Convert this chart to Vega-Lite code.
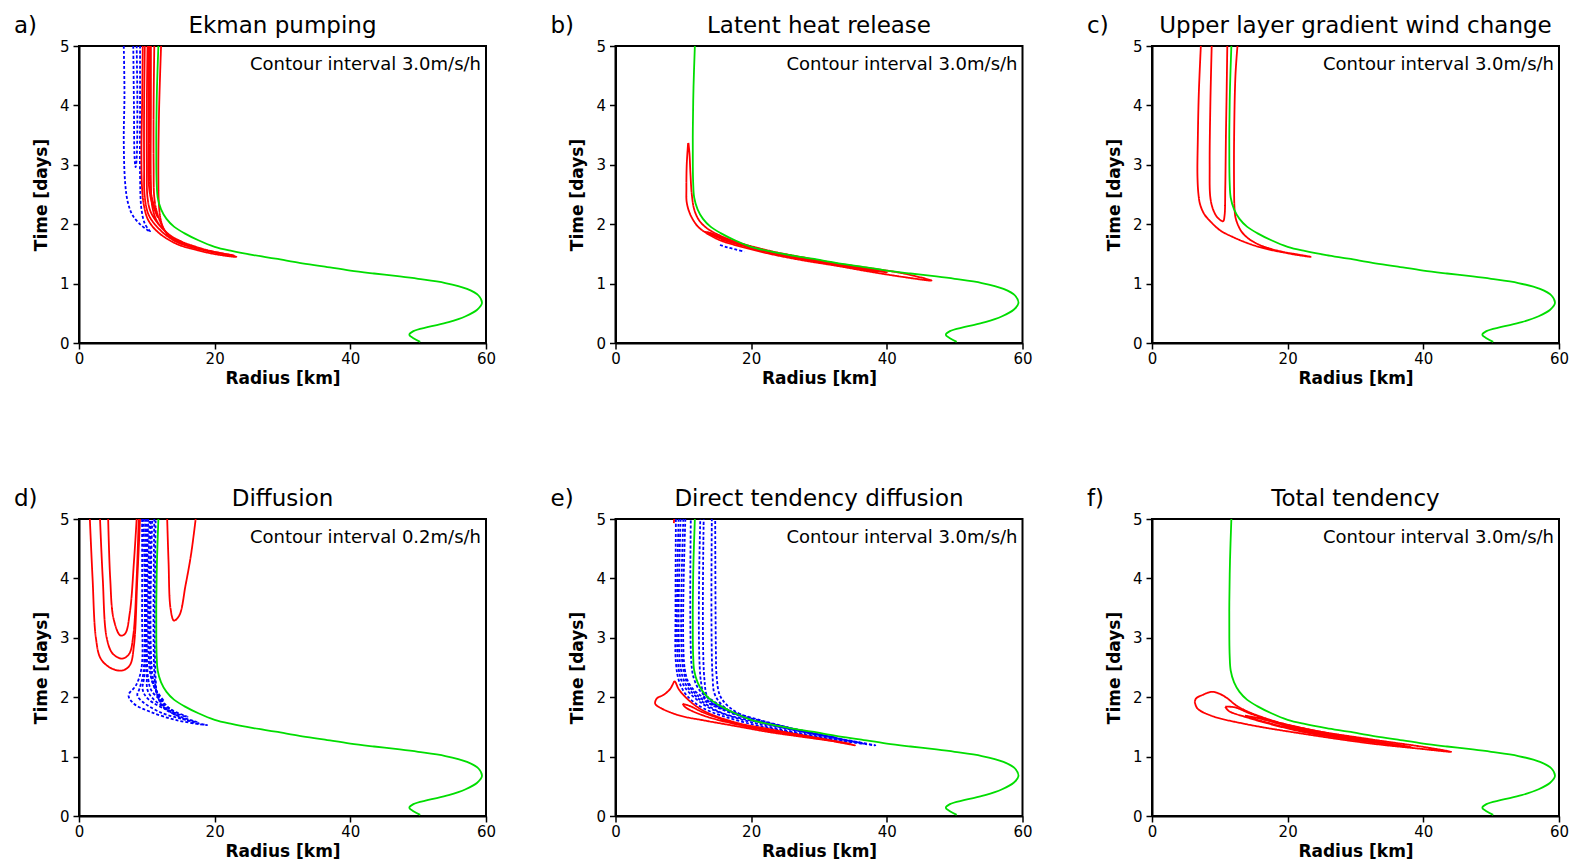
{
"$schema": "https://vega.github.io/schema/vega-lite/v6.json",
"background": "white",
"padding": {"left": 13, "top": 13, "right": 8, "bottom": 5},
"columns": 3,
"spacing": {"row": 176, "column": 129.5},
"bounds": "flush",
"config": {
 "font": "DejaVu Sans",
 "view": {"stroke": "black", "strokeWidth": 2},
 "axis": {"grid": false, "domainColor": "black", "domainWidth": 2, "tickColor": "black", "tickWidth": 1.5, "tickSize": 6, "labelFontSize": 15, "labelColor": "black", "labelFont": "DejaVu Sans", "titleFont": "DejaVu Sans", "titleFontSize": 17, "titleFontWeight": "bold", "titleColor": "black", "labelFlush": false},
 "axisX": {"labelPadding": 2, "titlePadding": 4},
 "axisY": {"labelPadding": 4, "titlePadding": 9},
 "text": {"font": "DejaVu Sans", "color": "black"}
},
"datasets": {
 "labels": [
  {"panel": "a", "letter": "a)", "title": "Ekman pumping", "interval": "Contour interval 3.0m/s/h"},
  {"panel": "b", "letter": "b)", "title": "Latent heat release", "interval": "Contour interval 3.0m/s/h"},
  {"panel": "c", "letter": "c)", "title": "Upper layer gradient wind change", "interval": "Contour interval 3.0m/s/h"},
  {"panel": "d", "letter": "d)", "title": "Diffusion", "interval": "Contour interval 0.2m/s/h"},
  {"panel": "e", "letter": "e)", "title": "Direct tendency diffusion", "interval": "Contour interval 3.0m/s/h"},
  {"panel": "f", "letter": "f)", "title": "Total tendency", "interval": "Contour interval 3.0m/s/h"}
 ],
 "rmw": [
  {"r": 50.3, "t": 0.02}, {"r": 49.3, "t": 0.08}, {"r": 48.7, "t": 0.14}, {"r": 49.3, "t": 0.2}, {"r": 51.5, "t": 0.27}, {"r": 54.5, "t": 0.35}, {"r": 57, "t": 0.45}, {"r": 58.7, "t": 0.56}, {"r": 59.4, "t": 0.67}, {"r": 58.9, "t": 0.8}, {"r": 57.2, "t": 0.91}, {"r": 54, "t": 1.01}, {"r": 50, "t": 1.08}, {"r": 47.3, "t": 1.12}, {"r": 43.5, "t": 1.17}, {"r": 40, "t": 1.22}, {"r": 36, "t": 1.29}, {"r": 32.5, "t": 1.35}, {"r": 29, "t": 1.42}, {"r": 25.7, "t": 1.48}, {"r": 22.5, "t": 1.55}, {"r": 20, "t": 1.62}, {"r": 17.6, "t": 1.73}, {"r": 15.5, "t": 1.85}, {"r": 14, "t": 1.96}, {"r": 12.9, "t": 2.09}, {"r": 12.1, "t": 2.25}, {"r": 11.6, "t": 2.45}, {"r": 11.45, "t": 2.7}, {"r": 11.4, "t": 3.0}, {"r": 11.4, "t": 3.6}, {"r": 11.5, "t": 4.3}, {"r": 11.7, "t": 5.0}
 ],
 "contours": [
  {"panel": "a", "id": "a1", "sign": "neg", "r": 6.6, "t": 5}, {"panel": "a", "id": "a1", "sign": "neg", "r": 6.7, "t": 4.2}, {"panel": "a", "id": "a1", "sign": "neg", "r": 6.6, "t": 3.4}, {"panel": "a", "id": "a1", "sign": "neg", "r": 6.8, "t": 2.7}, {"panel": "a", "id": "a1", "sign": "neg", "r": 7.2, "t": 2.37}, {"panel": "a", "id": "a1", "sign": "neg", "r": 7.9, "t": 2.15}, {"panel": "a", "id": "a1", "sign": "neg", "r": 9.1, "t": 1.99}, {"panel": "a", "id": "a1", "sign": "neg", "r": 10.1, "t": 1.9}, {"panel": "a", "id": "a1", "sign": "neg", "r": 10.5, "t": 1.87}, {"panel": "a", "id": "a1", "sign": "neg", "r": 9.7, "t": 2.01}, {"panel": "a", "id": "a1", "sign": "neg", "r": 9.2, "t": 2.26}, {"panel": "a", "id": "a1", "sign": "neg", "r": 9.0, "t": 2.82}, {"panel": "a", "id": "a1", "sign": "neg", "r": 9.0, "t": 3.94}, {"panel": "a", "id": "a1", "sign": "neg", "r": 9.0, "t": 5},
  {"panel": "a", "id": "a2", "sign": "neg", "r": 8.0, "t": 5}, {"panel": "a", "id": "a2", "sign": "neg", "r": 8.1, "t": 4}, {"panel": "a", "id": "a2", "sign": "neg", "r": 8.2, "t": 3.1}, {"panel": "a", "id": "a2", "sign": "neg", "r": 8.35, "t": 2.96}, {"panel": "a", "id": "a2", "sign": "neg", "r": 8.5, "t": 3.1}, {"panel": "a", "id": "a2", "sign": "neg", "r": 8.6, "t": 4}, {"panel": "a", "id": "a2", "sign": "neg", "r": 8.5, "t": 5},
  {"panel": "a", "id": "a3", "sign": "pos", "r": 9.4, "t": 5}, {"panel": "a", "id": "a3", "sign": "pos", "r": 9.3, "t": 4}, {"panel": "a", "id": "a3", "sign": "pos", "r": 9.2, "t": 3.2}, {"panel": "a", "id": "a3", "sign": "pos", "r": 9.3, "t": 2.6}, {"panel": "a", "id": "a3", "sign": "pos", "r": 9.6, "t": 2.3}, {"panel": "a", "id": "a3", "sign": "pos", "r": 10.2, "t": 2.07}, {"panel": "a", "id": "a3", "sign": "pos", "r": 11.6, "t": 1.87}, {"panel": "a", "id": "a3", "sign": "pos", "r": 13.5, "t": 1.72}, {"panel": "a", "id": "a3", "sign": "pos", "r": 15, "t": 1.64}, {"panel": "a", "id": "a3", "sign": "pos", "r": 17.5, "t": 1.56}, {"panel": "a", "id": "a3", "sign": "pos", "r": 19.4, "t": 1.51}, {"panel": "a", "id": "a3", "sign": "pos", "r": 21.5, "t": 1.47}, {"panel": "a", "id": "a3", "sign": "pos", "r": 23.2, "t": 1.45}, {"panel": "a", "id": "a3", "sign": "pos", "r": 21.5, "t": 1.5}, {"panel": "a", "id": "a3", "sign": "pos", "r": 19.4, "t": 1.55}, {"panel": "a", "id": "a3", "sign": "pos", "r": 17.5, "t": 1.61}, {"panel": "a", "id": "a3", "sign": "pos", "r": 15, "t": 1.71}, {"panel": "a", "id": "a3", "sign": "pos", "r": 13.5, "t": 1.79}, {"panel": "a", "id": "a3", "sign": "pos", "r": 12.6, "t": 1.9}, {"panel": "a", "id": "a3", "sign": "pos", "r": 12.1, "t": 2.05}, {"panel": "a", "id": "a3", "sign": "pos", "r": 11.8, "t": 2.3}, {"panel": "a", "id": "a3", "sign": "pos", "r": 11.7, "t": 2.8}, {"panel": "a", "id": "a3", "sign": "pos", "r": 11.8, "t": 3.9}, {"panel": "a", "id": "a3", "sign": "pos", "r": 12.1, "t": 5},
  {"panel": "a", "id": "a4", "sign": "pos", "r": 9.7, "t": 5}, {"panel": "a", "id": "a4", "sign": "pos", "r": 9.6, "t": 4}, {"panel": "a", "id": "a4", "sign": "pos", "r": 9.6, "t": 3}, {"panel": "a", "id": "a4", "sign": "pos", "r": 9.7, "t": 2.45}, {"panel": "a", "id": "a4", "sign": "pos", "r": 10.3, "t": 2.15}, {"panel": "a", "id": "a4", "sign": "pos", "r": 11.8, "t": 1.92}, {"panel": "a", "id": "a4", "sign": "pos", "r": 13.5, "t": 1.76}, {"panel": "a", "id": "a4", "sign": "pos", "r": 15, "t": 1.67}, {"panel": "a", "id": "a4", "sign": "pos", "r": 17.5, "t": 1.585}, {"panel": "a", "id": "a4", "sign": "pos", "r": 20.9, "t": 1.5}, {"panel": "a", "id": "a4", "sign": "pos", "r": 22.8, "t": 1.475}, {"panel": "a", "id": "a4", "sign": "pos", "r": 20.5, "t": 1.52}, {"panel": "a", "id": "a4", "sign": "pos", "r": 17.5, "t": 1.6}, {"panel": "a", "id": "a4", "sign": "pos", "r": 15.2, "t": 1.69}, {"panel": "a", "id": "a4", "sign": "pos", "r": 13.5, "t": 1.78}, {"panel": "a", "id": "a4", "sign": "pos", "r": 12.4, "t": 1.94}, {"panel": "a", "id": "a4", "sign": "pos", "r": 11.5, "t": 2.2}, {"panel": "a", "id": "a4", "sign": "pos", "r": 11.1, "t": 2.45}, {"panel": "a", "id": "a4", "sign": "pos", "r": 11, "t": 3}, {"panel": "a", "id": "a4", "sign": "pos", "r": 11, "t": 4}, {"panel": "a", "id": "a4", "sign": "pos", "r": 11.1, "t": 5},
  {"panel": "a", "id": "a5", "sign": "pos", "r": 10.1, "t": 5}, {"panel": "a", "id": "a5", "sign": "pos", "r": 10, "t": 4}, {"panel": "a", "id": "a5", "sign": "pos", "r": 10, "t": 3}, {"panel": "a", "id": "a5", "sign": "pos", "r": 10.1, "t": 2.45}, {"panel": "a", "id": "a5", "sign": "pos", "r": 10.6, "t": 2.2}, {"panel": "a", "id": "a5", "sign": "pos", "r": 12.1, "t": 1.95}, {"panel": "a", "id": "a5", "sign": "pos", "r": 13.6, "t": 1.8}, {"panel": "a", "id": "a5", "sign": "pos", "r": 15.2, "t": 1.7}, {"panel": "a", "id": "a5", "sign": "pos", "r": 14, "t": 1.76}, {"panel": "a", "id": "a5", "sign": "pos", "r": 12.8, "t": 1.87}, {"panel": "a", "id": "a5", "sign": "pos", "r": 11.5, "t": 2.05}, {"panel": "a", "id": "a5", "sign": "pos", "r": 10.8, "t": 2.3}, {"panel": "a", "id": "a5", "sign": "pos", "r": 10.6, "t": 2.7}, {"panel": "a", "id": "a5", "sign": "pos", "r": 10.6, "t": 4}, {"panel": "a", "id": "a5", "sign": "pos", "r": 10.6, "t": 5},
  {"panel": "a", "id": "a6", "sign": "pos", "r": 10.3, "t": 5}, {"panel": "a", "id": "a6", "sign": "pos", "r": 10.25, "t": 3.5}, {"panel": "a", "id": "a6", "sign": "pos", "r": 10.35, "t": 2.6}, {"panel": "a", "id": "a6", "sign": "pos", "r": 10.8, "t": 2.35}, {"panel": "a", "id": "a6", "sign": "pos", "r": 11.6, "t": 2.12}, {"panel": "a", "id": "a6", "sign": "pos", "r": 11.1, "t": 2.3}, {"panel": "a", "id": "a6", "sign": "pos", "r": 10.5, "t": 2.6}, {"panel": "a", "id": "a6", "sign": "pos", "r": 10.45, "t": 3.5}, {"panel": "a", "id": "a6", "sign": "pos", "r": 10.45, "t": 5},

  {"panel": "b", "id": "b1", "sign": "pos", "r": 10.7, "t": 3.36}, {"panel": "b", "id": "b1", "sign": "pos", "r": 10.5, "t": 3.0}, {"panel": "b", "id": "b1", "sign": "pos", "r": 10.45, "t": 2.6}, {"panel": "b", "id": "b1", "sign": "pos", "r": 10.5, "t": 2.37}, {"panel": "b", "id": "b1", "sign": "pos", "r": 11.0, "t": 2.17}, {"panel": "b", "id": "b1", "sign": "pos", "r": 12.0, "t": 1.98}, {"panel": "b", "id": "b1", "sign": "pos", "r": 13.0, "t": 1.88}, {"panel": "b", "id": "b1", "sign": "pos", "r": 15.4, "t": 1.73}, {"panel": "b", "id": "b1", "sign": "pos", "r": 17.9, "t": 1.64}, {"panel": "b", "id": "b1", "sign": "pos", "r": 22.8, "t": 1.5}, {"panel": "b", "id": "b1", "sign": "pos", "r": 27.7, "t": 1.39}, {"panel": "b", "id": "b1", "sign": "pos", "r": 32.6, "t": 1.3}, {"panel": "b", "id": "b1", "sign": "pos", "r": 37.5, "t": 1.2}, {"panel": "b", "id": "b1", "sign": "pos", "r": 42.5, "t": 1.11}, {"panel": "b", "id": "b1", "sign": "pos", "r": 46.6, "t": 1.05}, {"panel": "b", "id": "b1", "sign": "pos", "r": 42.5, "t": 1.17}, {"panel": "b", "id": "b1", "sign": "pos", "r": 37.5, "t": 1.26}, {"panel": "b", "id": "b1", "sign": "pos", "r": 32.6, "t": 1.34}, {"panel": "b", "id": "b1", "sign": "pos", "r": 27.7, "t": 1.44}, {"panel": "b", "id": "b1", "sign": "pos", "r": 22.8, "t": 1.55}, {"panel": "b", "id": "b1", "sign": "pos", "r": 17.9, "t": 1.7}, {"panel": "b", "id": "b1", "sign": "pos", "r": 15.4, "t": 1.81}, {"panel": "b", "id": "b1", "sign": "pos", "r": 13.5, "t": 1.93}, {"panel": "b", "id": "b1", "sign": "pos", "r": 12.3, "t": 2.07}, {"panel": "b", "id": "b1", "sign": "pos", "r": 11.6, "t": 2.25}, {"panel": "b", "id": "b1", "sign": "pos", "r": 11.25, "t": 2.5}, {"panel": "b", "id": "b1", "sign": "pos", "r": 11.05, "t": 2.85}, {"panel": "b", "id": "b1", "sign": "pos", "r": 10.9, "t": 3.2}, {"panel": "b", "id": "b1", "sign": "pos", "r": 10.75, "t": 3.37},
  {"panel": "b", "id": "b2", "sign": "pos", "r": 13.2, "t": 1.87}, {"panel": "b", "id": "b2", "sign": "pos", "r": 15.4, "t": 1.76}, {"panel": "b", "id": "b2", "sign": "pos", "r": 17.9, "t": 1.665}, {"panel": "b", "id": "b2", "sign": "pos", "r": 22.8, "t": 1.52}, {"panel": "b", "id": "b2", "sign": "pos", "r": 27.7, "t": 1.41}, {"panel": "b", "id": "b2", "sign": "pos", "r": 32.6, "t": 1.315}, {"panel": "b", "id": "b2", "sign": "pos", "r": 37.5, "t": 1.225}, {"panel": "b", "id": "b2", "sign": "pos", "r": 40, "t": 1.19}, {"panel": "b", "id": "b2", "sign": "pos", "r": 37.5, "t": 1.24}, {"panel": "b", "id": "b2", "sign": "pos", "r": 32.6, "t": 1.33}, {"panel": "b", "id": "b2", "sign": "pos", "r": 27.7, "t": 1.425}, {"panel": "b", "id": "b2", "sign": "pos", "r": 22.8, "t": 1.535}, {"panel": "b", "id": "b2", "sign": "pos", "r": 17.9, "t": 1.685}, {"panel": "b", "id": "b2", "sign": "pos", "r": 15.4, "t": 1.79}, {"panel": "b", "id": "b2", "sign": "pos", "r": 13.8, "t": 1.86}, {"panel": "b", "id": "b2", "sign": "pos", "r": 13.2, "t": 1.87},
  {"panel": "b", "id": "b3", "sign": "pos", "r": 15.6, "t": 1.74}, {"panel": "b", "id": "b3", "sign": "pos", "r": 17.9, "t": 1.675}, {"panel": "b", "id": "b3", "sign": "pos", "r": 22.8, "t": 1.53}, {"panel": "b", "id": "b3", "sign": "pos", "r": 27.7, "t": 1.415}, {"panel": "b", "id": "b3", "sign": "pos", "r": 32.6, "t": 1.32}, {"panel": "b", "id": "b3", "sign": "pos", "r": 38.5, "t": 1.2}, {"panel": "b", "id": "b3", "sign": "pos", "r": 32.6, "t": 1.325}, {"panel": "b", "id": "b3", "sign": "pos", "r": 27.7, "t": 1.42}, {"panel": "b", "id": "b3", "sign": "pos", "r": 22.8, "t": 1.54}, {"panel": "b", "id": "b3", "sign": "pos", "r": 17.9, "t": 1.68}, {"panel": "b", "id": "b3", "sign": "pos", "r": 15.6, "t": 1.74},
  {"panel": "b", "id": "b4", "sign": "neg", "r": 15.4, "t": 1.65}, {"panel": "b", "id": "b4", "sign": "neg", "r": 16.5, "t": 1.61}, {"panel": "b", "id": "b4", "sign": "neg", "r": 17.7, "t": 1.575}, {"panel": "b", "id": "b4", "sign": "neg", "r": 19.0, "t": 1.54},

  {"panel": "c", "id": "c1", "sign": "pos", "r": 7.2, "t": 5}, {"panel": "c", "id": "c1", "sign": "pos", "r": 6.9, "t": 4.2}, {"panel": "c", "id": "c1", "sign": "pos", "r": 6.75, "t": 3.4}, {"panel": "c", "id": "c1", "sign": "pos", "r": 6.7, "t": 2.82}, {"panel": "c", "id": "c1", "sign": "pos", "r": 6.85, "t": 2.5}, {"panel": "c", "id": "c1", "sign": "pos", "r": 7.1, "t": 2.33}, {"panel": "c", "id": "c1", "sign": "pos", "r": 7.7, "t": 2.17}, {"panel": "c", "id": "c1", "sign": "pos", "r": 8.5, "t": 2.06}, {"panel": "c", "id": "c1", "sign": "pos", "r": 10.0, "t": 1.9}, {"panel": "c", "id": "c1", "sign": "pos", "r": 12.0, "t": 1.78}, {"panel": "c", "id": "c1", "sign": "pos", "r": 14.6, "t": 1.66}, {"panel": "c", "id": "c1", "sign": "pos", "r": 17.0, "t": 1.58}, {"panel": "c", "id": "c1", "sign": "pos", "r": 19.6, "t": 1.52}, {"panel": "c", "id": "c1", "sign": "pos", "r": 21.5, "t": 1.48}, {"panel": "c", "id": "c1", "sign": "pos", "r": 23.4, "t": 1.45}, {"panel": "c", "id": "c1", "sign": "pos", "r": 21.5, "t": 1.49}, {"panel": "c", "id": "c1", "sign": "pos", "r": 19.5, "t": 1.53}, {"panel": "c", "id": "c1", "sign": "pos", "r": 17.1, "t": 1.6}, {"panel": "c", "id": "c1", "sign": "pos", "r": 15.5, "t": 1.67}, {"panel": "c", "id": "c1", "sign": "pos", "r": 14.2, "t": 1.76}, {"panel": "c", "id": "c1", "sign": "pos", "r": 13.3, "t": 1.86}, {"panel": "c", "id": "c1", "sign": "pos", "r": 12.7, "t": 1.98}, {"panel": "c", "id": "c1", "sign": "pos", "r": 12.3, "t": 2.12}, {"panel": "c", "id": "c1", "sign": "pos", "r": 12.15, "t": 2.3}, {"panel": "c", "id": "c1", "sign": "pos", "r": 12.1, "t": 2.6}, {"panel": "c", "id": "c1", "sign": "pos", "r": 12.1, "t": 3.4}, {"panel": "c", "id": "c1", "sign": "pos", "r": 12.3, "t": 4.5}, {"panel": "c", "id": "c1", "sign": "pos", "r": 12.6, "t": 5},
  {"panel": "c", "id": "c2", "sign": "pos", "r": 8.8, "t": 5}, {"panel": "c", "id": "c2", "sign": "pos", "r": 8.6, "t": 4}, {"panel": "c", "id": "c2", "sign": "pos", "r": 8.5, "t": 3}, {"panel": "c", "id": "c2", "sign": "pos", "r": 8.6, "t": 2.45}, {"panel": "c", "id": "c2", "sign": "pos", "r": 9.0, "t": 2.25}, {"panel": "c", "id": "c2", "sign": "pos", "r": 9.6, "t": 2.12}, {"panel": "c", "id": "c2", "sign": "pos", "r": 10.2, "t": 2.06}, {"panel": "c", "id": "c2", "sign": "pos", "r": 10.5, "t": 2.05}, {"panel": "c", "id": "c2", "sign": "pos", "r": 10.7, "t": 2.15}, {"panel": "c", "id": "c2", "sign": "pos", "r": 10.8, "t": 2.6}, {"panel": "c", "id": "c2", "sign": "pos", "r": 10.9, "t": 3.5}, {"panel": "c", "id": "c2", "sign": "pos", "r": 11.0, "t": 4.2}, {"panel": "c", "id": "c2", "sign": "pos", "r": 11.1, "t": 5},

  {"panel": "d", "id": "d1", "sign": "pos", "r": 1.6, "t": 5}, {"panel": "d", "id": "d1", "sign": "pos", "r": 2.0, "t": 4}, {"panel": "d", "id": "d1", "sign": "pos", "r": 2.5, "t": 2.99}, {"panel": "d", "id": "d1", "sign": "pos", "r": 3.2, "t": 2.65}, {"panel": "d", "id": "d1", "sign": "pos", "r": 4.7, "t": 2.49}, {"panel": "d", "id": "d1", "sign": "pos", "r": 6.4, "t": 2.45}, {"panel": "d", "id": "d1", "sign": "pos", "r": 7.5, "t": 2.54}, {"panel": "d", "id": "d1", "sign": "pos", "r": 8.1, "t": 2.87}, {"panel": "d", "id": "d1", "sign": "pos", "r": 8.6, "t": 4}, {"panel": "d", "id": "d1", "sign": "pos", "r": 9.0, "t": 5},
  {"panel": "d", "id": "d2", "sign": "pos", "r": 3.1, "t": 5}, {"panel": "d", "id": "d2", "sign": "pos", "r": 3.5, "t": 4}, {"panel": "d", "id": "d2", "sign": "pos", "r": 4.1, "t": 2.99}, {"panel": "d", "id": "d2", "sign": "pos", "r": 5.0, "t": 2.73}, {"panel": "d", "id": "d2", "sign": "pos", "r": 6.4, "t": 2.65}, {"panel": "d", "id": "d2", "sign": "pos", "r": 7.4, "t": 2.73}, {"panel": "d", "id": "d2", "sign": "pos", "r": 8.0, "t": 3.04}, {"panel": "d", "id": "d2", "sign": "pos", "r": 8.5, "t": 4}, {"panel": "d", "id": "d2", "sign": "pos", "r": 8.8, "t": 5},
  {"panel": "d", "id": "d3", "sign": "pos", "r": 4.3, "t": 5}, {"panel": "d", "id": "d3", "sign": "pos", "r": 4.6, "t": 4}, {"panel": "d", "id": "d3", "sign": "pos", "r": 5.1, "t": 3.32}, {"panel": "d", "id": "d3", "sign": "pos", "r": 6.1, "t": 3.04}, {"panel": "d", "id": "d3", "sign": "pos", "r": 6.8, "t": 3.07}, {"panel": "d", "id": "d3", "sign": "pos", "r": 7.5, "t": 3.43}, {"panel": "d", "id": "d3", "sign": "pos", "r": 8.1, "t": 4.28}, {"panel": "d", "id": "d3", "sign": "pos", "r": 8.5, "t": 5},
  {"panel": "d", "id": "d4", "sign": "pos", "r": 13.0, "t": 5}, {"panel": "d", "id": "d4", "sign": "pos", "r": 13.2, "t": 4.28}, {"panel": "d", "id": "d4", "sign": "pos", "r": 13.5, "t": 3.49}, {"panel": "d", "id": "d4", "sign": "pos", "r": 14.0, "t": 3.29}, {"panel": "d", "id": "d4", "sign": "pos", "r": 14.8, "t": 3.38}, {"panel": "d", "id": "d4", "sign": "pos", "r": 15.7, "t": 3.88}, {"panel": "d", "id": "d4", "sign": "pos", "r": 16.5, "t": 4.39}, {"panel": "d", "id": "d4", "sign": "pos", "r": 17.2, "t": 5},
  {"panel": "d", "id": "d5", "sign": "neg", "r": 9.3, "t": 5}, {"panel": "d", "id": "d5", "sign": "neg", "r": 9.3, "t": 3.43}, {"panel": "d", "id": "d5", "sign": "neg", "r": 9.2, "t": 2.48}, {"panel": "d", "id": "d5", "sign": "neg", "r": 8.4, "t": 2.2}, {"panel": "d", "id": "d5", "sign": "neg", "r": 7.3, "t": 2.03}, {"panel": "d", "id": "d5", "sign": "neg", "r": 8.1, "t": 1.89}, {"panel": "d", "id": "d5", "sign": "neg", "r": 10.6, "t": 1.75}, {"panel": "d", "id": "d5", "sign": "neg", "r": 14.5, "t": 1.61}, {"panel": "d", "id": "d5", "sign": "neg", "r": 18.9, "t": 1.53}, {"panel": "d", "id": "d5", "sign": "neg", "r": 16.5, "t": 1.59}, {"panel": "d", "id": "d5", "sign": "neg", "r": 13.5, "t": 1.75}, {"panel": "d", "id": "d5", "sign": "neg", "r": 11.7, "t": 1.98}, {"panel": "d", "id": "d5", "sign": "neg", "r": 11.3, "t": 2.31}, {"panel": "d", "id": "d5", "sign": "neg", "r": 11.3, "t": 5},
  {"panel": "d", "id": "d6", "sign": "neg", "r": 9.5, "t": 5}, {"panel": "d", "id": "d6", "sign": "neg", "r": 9.5, "t": 2.42}, {"panel": "d", "id": "d6", "sign": "neg", "r": 8.9, "t": 2.14}, {"panel": "d", "id": "d6", "sign": "neg", "r": 8.6, "t": 2.03}, {"panel": "d", "id": "d6", "sign": "neg", "r": 9.4, "t": 1.92}, {"panel": "d", "id": "d6", "sign": "neg", "r": 12.1, "t": 1.74}, {"panel": "d", "id": "d6", "sign": "neg", "r": 15.0, "t": 1.64}, {"panel": "d", "id": "d6", "sign": "neg", "r": 17.5, "t": 1.58}, {"panel": "d", "id": "d6", "sign": "neg", "r": 15.0, "t": 1.67}, {"panel": "d", "id": "d6", "sign": "neg", "r": 12.5, "t": 1.82}, {"panel": "d", "id": "d6", "sign": "neg", "r": 11.5, "t": 2.06}, {"panel": "d", "id": "d6", "sign": "neg", "r": 11.1, "t": 2.42}, {"panel": "d", "id": "d6", "sign": "neg", "r": 11.1, "t": 5},
  {"panel": "d", "id": "d7", "sign": "neg", "r": 9.75, "t": 5}, {"panel": "d", "id": "d7", "sign": "neg", "r": 9.7, "t": 2.42}, {"panel": "d", "id": "d7", "sign": "neg", "r": 9.4, "t": 2.12}, {"panel": "d", "id": "d7", "sign": "neg", "r": 10.3, "t": 1.96}, {"panel": "d", "id": "d7", "sign": "neg", "r": 13.5, "t": 1.76}, {"panel": "d", "id": "d7", "sign": "neg", "r": 16.0, "t": 1.67}, {"panel": "d", "id": "d7", "sign": "neg", "r": 13.5, "t": 1.8}, {"panel": "d", "id": "d7", "sign": "neg", "r": 11.7, "t": 2.04}, {"panel": "d", "id": "d7", "sign": "neg", "r": 10.8, "t": 2.4}, {"panel": "d", "id": "d7", "sign": "neg", "r": 10.8, "t": 5},
  {"panel": "d", "id": "d8", "sign": "neg", "r": 10.0, "t": 5}, {"panel": "d", "id": "d8", "sign": "neg", "r": 10.0, "t": 2.42}, {"panel": "d", "id": "d8", "sign": "neg", "r": 10.2, "t": 2.09}, {"panel": "d", "id": "d8", "sign": "neg", "r": 12.1, "t": 1.86}, {"panel": "d", "id": "d8", "sign": "neg", "r": 14.5, "t": 1.72}, {"panel": "d", "id": "d8", "sign": "neg", "r": 12.5, "t": 1.88}, {"panel": "d", "id": "d8", "sign": "neg", "r": 11.2, "t": 2.14}, {"panel": "d", "id": "d8", "sign": "neg", "r": 10.6, "t": 2.42}, {"panel": "d", "id": "d8", "sign": "neg", "r": 10.6, "t": 5},
  {"panel": "d", "id": "d9", "sign": "neg", "r": 10.2, "t": 5}, {"panel": "d", "id": "d9", "sign": "neg", "r": 10.2, "t": 2.31}, {"panel": "d", "id": "d9", "sign": "neg", "r": 10.8, "t": 2.09}, {"panel": "d", "id": "d9", "sign": "neg", "r": 12.5, "t": 1.93}, {"panel": "d", "id": "d9", "sign": "neg", "r": 11.1, "t": 2.17}, {"panel": "d", "id": "d9", "sign": "neg", "r": 10.4, "t": 2.48}, {"panel": "d", "id": "d9", "sign": "neg", "r": 10.4, "t": 5},

  {"panel": "e", "id": "e1", "sign": "neg", "r": 8.9, "t": 5}, {"panel": "e", "id": "e1", "sign": "neg", "r": 8.85, "t": 3.43}, {"panel": "e", "id": "e1", "sign": "neg", "r": 8.9, "t": 2.59}, {"panel": "e", "id": "e1", "sign": "neg", "r": 9.4, "t": 2.26}, {"panel": "e", "id": "e1", "sign": "neg", "r": 10.5, "t": 2.03}, {"panel": "e", "id": "e1", "sign": "neg", "r": 13.0, "t": 1.81}, {"panel": "e", "id": "e1", "sign": "neg", "r": 18.9, "t": 1.58}, {"panel": "e", "id": "e1", "sign": "neg", "r": 27.7, "t": 1.37}, {"panel": "e", "id": "e1", "sign": "neg", "r": 38.3, "t": 1.19}, {"panel": "e", "id": "e1", "sign": "neg", "r": 32.6, "t": 1.31}, {"panel": "e", "id": "e1", "sign": "neg", "r": 27.7, "t": 1.42}, {"panel": "e", "id": "e1", "sign": "neg", "r": 20.3, "t": 1.62}, {"panel": "e", "id": "e1", "sign": "neg", "r": 16.9, "t": 1.82}, {"panel": "e", "id": "e1", "sign": "neg", "r": 15.4, "t": 2.03}, {"panel": "e", "id": "e1", "sign": "neg", "r": 14.9, "t": 2.37}, {"panel": "e", "id": "e1", "sign": "neg", "r": 14.8, "t": 2.76}, {"panel": "e", "id": "e1", "sign": "neg", "r": 14.7, "t": 5},
  {"panel": "e", "id": "e2", "sign": "neg", "r": 9.3, "t": 5}, {"panel": "e", "id": "e2", "sign": "neg", "r": 9.2, "t": 2.59}, {"panel": "e", "id": "e2", "sign": "neg", "r": 9.8, "t": 2.26}, {"panel": "e", "id": "e2", "sign": "neg", "r": 11.0, "t": 2.06}, {"panel": "e", "id": "e2", "sign": "neg", "r": 14.0, "t": 1.81}, {"panel": "e", "id": "e2", "sign": "neg", "r": 20.3, "t": 1.57}, {"panel": "e", "id": "e2", "sign": "neg", "r": 27.7, "t": 1.385}, {"panel": "e", "id": "e2", "sign": "neg", "r": 36.6, "t": 1.22}, {"panel": "e", "id": "e2", "sign": "neg", "r": 27.7, "t": 1.415}, {"panel": "e", "id": "e2", "sign": "neg", "r": 20.3, "t": 1.61}, {"panel": "e", "id": "e2", "sign": "neg", "r": 16.4, "t": 1.8}, {"panel": "e", "id": "e2", "sign": "neg", "r": 14.7, "t": 2.03}, {"panel": "e", "id": "e2", "sign": "neg", "r": 14.3, "t": 2.37}, {"panel": "e", "id": "e2", "sign": "neg", "r": 14.2, "t": 5},
  {"panel": "e", "id": "e3", "sign": "neg", "r": 9.6, "t": 5}, {"panel": "e", "id": "e3", "sign": "neg", "r": 9.5, "t": 2.59}, {"panel": "e", "id": "e3", "sign": "neg", "r": 10.3, "t": 2.23}, {"panel": "e", "id": "e3", "sign": "neg", "r": 12.0, "t": 2.0}, {"panel": "e", "id": "e3", "sign": "neg", "r": 15.4, "t": 1.75}, {"panel": "e", "id": "e3", "sign": "neg", "r": 22.8, "t": 1.54}, {"panel": "e", "id": "e3", "sign": "neg", "r": 32.6, "t": 1.32}, {"panel": "e", "id": "e3", "sign": "neg", "r": 22.8, "t": 1.56}, {"panel": "e", "id": "e3", "sign": "neg", "r": 16.4, "t": 1.78}, {"panel": "e", "id": "e3", "sign": "neg", "r": 13.7, "t": 1.98}, {"panel": "e", "id": "e3", "sign": "neg", "r": 13.1, "t": 2.31}, {"panel": "e", "id": "e3", "sign": "neg", "r": 13.0, "t": 5},
  {"panel": "e", "id": "e4", "sign": "neg", "r": 10.0, "t": 5}, {"panel": "e", "id": "e4", "sign": "neg", "r": 9.9, "t": 2.54}, {"panel": "e", "id": "e4", "sign": "neg", "r": 10.8, "t": 2.2}, {"panel": "e", "id": "e4", "sign": "neg", "r": 13.0, "t": 1.95}, {"panel": "e", "id": "e4", "sign": "neg", "r": 17.9, "t": 1.7}, {"panel": "e", "id": "e4", "sign": "neg", "r": 25.7, "t": 1.48}, {"panel": "e", "id": "e4", "sign": "neg", "r": 17.9, "t": 1.73}, {"panel": "e", "id": "e4", "sign": "neg", "r": 13.5, "t": 1.94}, {"panel": "e", "id": "e4", "sign": "neg", "r": 12.6, "t": 2.26}, {"panel": "e", "id": "e4", "sign": "neg", "r": 12.5, "t": 5},
  {"panel": "e", "id": "e5", "sign": "neg", "r": 10.3, "t": 5}, {"panel": "e", "id": "e5", "sign": "neg", "r": 10.2, "t": 2.48}, {"panel": "e", "id": "e5", "sign": "neg", "r": 11.0, "t": 2.2}, {"panel": "e", "id": "e5", "sign": "neg", "r": 12.5, "t": 2.03}, {"panel": "e", "id": "e5", "sign": "neg", "r": 15.0, "t": 1.85}, {"panel": "e", "id": "e5", "sign": "neg", "r": 16.5, "t": 1.79}, {"panel": "e", "id": "e5", "sign": "neg", "r": 14.5, "t": 1.93}, {"panel": "e", "id": "e5", "sign": "neg", "r": 12.5, "t": 2.1}, {"panel": "e", "id": "e5", "sign": "neg", "r": 11.6, "t": 2.3}, {"panel": "e", "id": "e5", "sign": "neg", "r": 11.2, "t": 2.55}, {"panel": "e", "id": "e5", "sign": "neg", "r": 11.1, "t": 5},
  {"panel": "e", "id": "e6", "sign": "pos", "r": 8.65, "t": 2.27}, {"panel": "e", "id": "e6", "sign": "pos", "r": 8.06, "t": 2.14}, {"panel": "e", "id": "e6", "sign": "pos", "r": 7.1, "t": 2.04}, {"panel": "e", "id": "e6", "sign": "pos", "r": 6.1, "t": 1.98}, {"panel": "e", "id": "e6", "sign": "pos", "r": 5.85, "t": 1.89}, {"panel": "e", "id": "e6", "sign": "pos", "r": 6.8, "t": 1.81}, {"panel": "e", "id": "e6", "sign": "pos", "r": 9.5, "t": 1.69}, {"panel": "e", "id": "e6", "sign": "pos", "r": 13.0, "t": 1.61}, {"panel": "e", "id": "e6", "sign": "pos", "r": 17.9, "t": 1.51}, {"panel": "e", "id": "e6", "sign": "pos", "r": 22.8, "t": 1.41}, {"panel": "e", "id": "e6", "sign": "pos", "r": 27.7, "t": 1.33}, {"panel": "e", "id": "e6", "sign": "pos", "r": 32.6, "t": 1.25}, {"panel": "e", "id": "e6", "sign": "pos", "r": 35.3, "t": 1.19}, {"panel": "e", "id": "e6", "sign": "pos", "r": 30.2, "t": 1.3}, {"panel": "e", "id": "e6", "sign": "pos", "r": 22.8, "t": 1.46}, {"panel": "e", "id": "e6", "sign": "pos", "r": 17.9, "t": 1.57}, {"panel": "e", "id": "e6", "sign": "pos", "r": 13.0, "t": 1.77}, {"panel": "e", "id": "e6", "sign": "pos", "r": 10.5, "t": 1.98}, {"panel": "e", "id": "e6", "sign": "pos", "r": 9.3, "t": 2.14}, {"panel": "e", "id": "e6", "sign": "pos", "r": 8.8, "t": 2.26}, {"panel": "e", "id": "e6", "sign": "pos", "r": 8.65, "t": 2.27},
  {"panel": "e", "id": "e7", "sign": "pos", "r": 9.9, "t": 1.89}, {"panel": "e", "id": "e7", "sign": "pos", "r": 10.3, "t": 1.83}, {"panel": "e", "id": "e7", "sign": "pos", "r": 13.0, "t": 1.69}, {"panel": "e", "id": "e7", "sign": "pos", "r": 17.9, "t": 1.54}, {"panel": "e", "id": "e7", "sign": "pos", "r": 22.8, "t": 1.43}, {"panel": "e", "id": "e7", "sign": "pos", "r": 27.7, "t": 1.345}, {"panel": "e", "id": "e7", "sign": "pos", "r": 34.6, "t": 1.215}, {"panel": "e", "id": "e7", "sign": "pos", "r": 27.7, "t": 1.355}, {"panel": "e", "id": "e7", "sign": "pos", "r": 22.8, "t": 1.445}, {"panel": "e", "id": "e7", "sign": "pos", "r": 17.9, "t": 1.555}, {"panel": "e", "id": "e7", "sign": "pos", "r": 13.0, "t": 1.74}, {"panel": "e", "id": "e7", "sign": "pos", "r": 11.0, "t": 1.85}, {"panel": "e", "id": "e7", "sign": "pos", "r": 9.9, "t": 1.89},
  {"panel": "e", "id": "e8", "sign": "pos", "r": 8.65, "t": 5}, {"panel": "e", "id": "e8", "sign": "pos", "r": 8.6, "t": 4.93},

  {"panel": "f", "id": "f1", "sign": "pos", "r": 6.3, "t": 1.92}, {"panel": "f", "id": "f1", "sign": "pos", "r": 6.7, "t": 1.81}, {"panel": "f", "id": "f1", "sign": "pos", "r": 8.7, "t": 1.69}, {"panel": "f", "id": "f1", "sign": "pos", "r": 13.7, "t": 1.55}, {"panel": "f", "id": "f1", "sign": "pos", "r": 22.5, "t": 1.38}, {"panel": "f", "id": "f1", "sign": "pos", "r": 32.3, "t": 1.22}, {"panel": "f", "id": "f1", "sign": "pos", "r": 39.7, "t": 1.13}, {"panel": "f", "id": "f1", "sign": "pos", "r": 44.1, "t": 1.08}, {"panel": "f", "id": "f1", "sign": "pos", "r": 40.2, "t": 1.16}, {"panel": "f", "id": "f1", "sign": "pos", "r": 32.3, "t": 1.29}, {"panel": "f", "id": "f1", "sign": "pos", "r": 22.5, "t": 1.47}, {"panel": "f", "id": "f1", "sign": "pos", "r": 16.6, "t": 1.65}, {"panel": "f", "id": "f1", "sign": "pos", "r": 12.7, "t": 1.84}, {"panel": "f", "id": "f1", "sign": "pos", "r": 11.0, "t": 1.99}, {"panel": "f", "id": "f1", "sign": "pos", "r": 9.7, "t": 2.07}, {"panel": "f", "id": "f1", "sign": "pos", "r": 8.7, "t": 2.09}, {"panel": "f", "id": "f1", "sign": "pos", "r": 7.5, "t": 2.04}, {"panel": "f", "id": "f1", "sign": "pos", "r": 6.5, "t": 1.98}, {"panel": "f", "id": "f1", "sign": "pos", "r": 6.3, "t": 1.92},
  {"panel": "f", "id": "f2", "sign": "pos", "r": 10.8, "t": 1.84}, {"panel": "f", "id": "f2", "sign": "pos", "r": 11.3, "t": 1.77}, {"panel": "f", "id": "f2", "sign": "pos", "r": 13.7, "t": 1.67}, {"panel": "f", "id": "f2", "sign": "pos", "r": 22.5, "t": 1.41}, {"panel": "f", "id": "f2", "sign": "pos", "r": 32.3, "t": 1.245}, {"panel": "f", "id": "f2", "sign": "pos", "r": 38.2, "t": 1.16}, {"panel": "f", "id": "f2", "sign": "pos", "r": 32.3, "t": 1.27}, {"panel": "f", "id": "f2", "sign": "pos", "r": 22.5, "t": 1.45}, {"panel": "f", "id": "f2", "sign": "pos", "r": 14.6, "t": 1.72}, {"panel": "f", "id": "f2", "sign": "pos", "r": 12.2, "t": 1.83}, {"panel": "f", "id": "f2", "sign": "pos", "r": 10.8, "t": 1.84},
  {"panel": "f", "id": "f3", "sign": "pos", "r": 13.7, "t": 1.69}, {"panel": "f", "id": "f3", "sign": "pos", "r": 15.5, "t": 1.62}, {"panel": "f", "id": "f3", "sign": "pos", "r": 22.5, "t": 1.42}, {"panel": "f", "id": "f3", "sign": "pos", "r": 30, "t": 1.28}, {"panel": "f", "id": "f3", "sign": "pos", "r": 37, "t": 1.185}, {"panel": "f", "id": "f3", "sign": "pos", "r": 30, "t": 1.295}, {"panel": "f", "id": "f3", "sign": "pos", "r": 22.5, "t": 1.44}, {"panel": "f", "id": "f3", "sign": "pos", "r": 16, "t": 1.64}, {"panel": "f", "id": "f3", "sign": "pos", "r": 13.7, "t": 1.69},
  {"panel": "f", "id": "f4", "sign": "pos", "r": 15.5, "t": 1.66}, {"panel": "f", "id": "f4", "sign": "pos", "r": 20, "t": 1.52}, {"panel": "f", "id": "f4", "sign": "pos", "r": 27, "t": 1.36}, {"panel": "f", "id": "f4", "sign": "pos", "r": 33, "t": 1.255}, {"panel": "f", "id": "f4", "sign": "pos", "r": 27, "t": 1.37}, {"panel": "f", "id": "f4", "sign": "pos", "r": 20, "t": 1.535}, {"panel": "f", "id": "f4", "sign": "pos", "r": 15.5, "t": 1.66}
 ]
},
"concat": [
 {"width": 407, "height": 297, "layer": [
  {"data": {"name": "contours"}, "transform": [{"filter": "datum.panel == 'a'"}], "mark": {"type": "line", "strokeWidth": 1.8, "clip": true, "interpolate": "catmull-rom"}, "encoding": {"x": {"field": "r", "type": "quantitative", "scale": {"domain": [0, 60], "nice": false, "zero": false}, "axis": {"values": [0, 20, 40, 60]}, "title": "Radius [km]"}, "y": {"field": "t", "type": "quantitative", "scale": {"domain": [0, 5], "nice": false, "zero": false}, "axis": {"values": [0, 1, 2, 3, 4, 5]}, "title": "Time [days]"}, "detail": {"field": "id"}, "order": {"value": null}, "color": {"field": "sign", "type": "nominal", "scale": {"domain": ["pos", "neg"], "range": ["#ff0000", "#0000ff"]}, "legend": null}, "strokeDash": {"field": "sign", "type": "nominal", "scale": {"domain": ["pos", "neg"], "range": [[1, 0], [3, 2]]}, "legend": null}}},
  {"data": {"name": "rmw"}, "mark": {"type": "line", "color": "#00dd00", "strokeWidth": 1.8, "clip": true, "interpolate": "catmull-rom"}, "encoding": {"x": {"field": "r", "type": "quantitative", "scale": {"domain": [0, 60], "nice": false, "zero": false}, "axis": {"values": [0, 20, 40, 60]}, "title": "Radius [km]"}, "y": {"field": "t", "type": "quantitative", "scale": {"domain": [0, 5], "nice": false, "zero": false}, "axis": {"values": [0, 1, 2, 3, 4, 5]}, "title": "Time [days]"}, "order": {"value": null}}},
  {"data": {"name": "labels"}, "transform": [{"filter": "datum.panel == 'a'"}], "mark": {"type": "text", "align": "right", "baseline": "alphabetic", "fontSize": 18}, "encoding": {"x": {"datum": 59.26, "type": "quantitative", "scale": {"domain": [0, 60], "nice": false, "zero": false}, "axis": {"values": [0, 20, 40, 60]}, "title": "Radius [km]"}, "y": {"datum": 4.596, "type": "quantitative", "scale": {"domain": [0, 5], "nice": false, "zero": false}, "axis": {"values": [0, 1, 2, 3, 4, 5]}, "title": "Time [days]"}, "text": {"field": "interval"}}},
  {"data": {"name": "labels"}, "transform": [{"filter": "datum.panel == 'a'"}], "mark": {"type": "text", "align": "left", "baseline": "alphabetic", "fontSize": 23}, "encoding": {"x": {"datum": -9.58, "type": "quantitative", "scale": {"domain": [0, 60], "nice": false, "zero": false}, "axis": {"values": [0, 20, 40, 60]}, "title": "Radius [km]"}, "y": {"datum": 5.219, "type": "quantitative", "scale": {"domain": [0, 5], "nice": false, "zero": false}, "axis": {"values": [0, 1, 2, 3, 4, 5]}, "title": "Time [days]"}, "text": {"field": "letter"}}},
  {"data": {"name": "labels"}, "transform": [{"filter": "datum.panel == 'a'"}], "mark": {"type": "text", "align": "center", "baseline": "alphabetic", "fontSize": 23}, "encoding": {"x": {"datum": 30, "type": "quantitative", "scale": {"domain": [0, 60], "nice": false, "zero": false}, "axis": {"values": [0, 20, 40, 60]}, "title": "Radius [km]"}, "y": {"datum": 5.219, "type": "quantitative", "scale": {"domain": [0, 5], "nice": false, "zero": false}, "axis": {"values": [0, 1, 2, 3, 4, 5]}, "title": "Time [days]"}, "text": {"field": "title"}}}
 ]},
 {"width": 407, "height": 297, "layer": [
  {"data": {"name": "contours"}, "transform": [{"filter": "datum.panel == 'b'"}], "mark": {"type": "line", "strokeWidth": 1.8, "clip": true, "interpolate": "catmull-rom"}, "encoding": {"x": {"field": "r", "type": "quantitative", "scale": {"domain": [0, 60], "nice": false, "zero": false}, "axis": {"values": [0, 20, 40, 60]}, "title": "Radius [km]"}, "y": {"field": "t", "type": "quantitative", "scale": {"domain": [0, 5], "nice": false, "zero": false}, "axis": {"values": [0, 1, 2, 3, 4, 5]}, "title": "Time [days]"}, "detail": {"field": "id"}, "order": {"value": null}, "color": {"field": "sign", "type": "nominal", "scale": {"domain": ["pos", "neg"], "range": ["#ff0000", "#0000ff"]}, "legend": null}, "strokeDash": {"field": "sign", "type": "nominal", "scale": {"domain": ["pos", "neg"], "range": [[1, 0], [3, 2]]}, "legend": null}}},
  {"data": {"name": "rmw"}, "mark": {"type": "line", "color": "#00dd00", "strokeWidth": 1.8, "clip": true, "interpolate": "catmull-rom"}, "encoding": {"x": {"field": "r", "type": "quantitative", "scale": {"domain": [0, 60], "nice": false, "zero": false}, "axis": {"values": [0, 20, 40, 60]}, "title": "Radius [km]"}, "y": {"field": "t", "type": "quantitative", "scale": {"domain": [0, 5], "nice": false, "zero": false}, "axis": {"values": [0, 1, 2, 3, 4, 5]}, "title": "Time [days]"}, "order": {"value": null}}},
  {"data": {"name": "labels"}, "transform": [{"filter": "datum.panel == 'b'"}], "mark": {"type": "text", "align": "right", "baseline": "alphabetic", "fontSize": 18}, "encoding": {"x": {"datum": 59.26, "type": "quantitative", "scale": {"domain": [0, 60], "nice": false, "zero": false}, "axis": {"values": [0, 20, 40, 60]}, "title": "Radius [km]"}, "y": {"datum": 4.596, "type": "quantitative", "scale": {"domain": [0, 5], "nice": false, "zero": false}, "axis": {"values": [0, 1, 2, 3, 4, 5]}, "title": "Time [days]"}, "text": {"field": "interval"}}},
  {"data": {"name": "labels"}, "transform": [{"filter": "datum.panel == 'b'"}], "mark": {"type": "text", "align": "left", "baseline": "alphabetic", "fontSize": 23}, "encoding": {"x": {"datum": -9.58, "type": "quantitative", "scale": {"domain": [0, 60], "nice": false, "zero": false}, "axis": {"values": [0, 20, 40, 60]}, "title": "Radius [km]"}, "y": {"datum": 5.219, "type": "quantitative", "scale": {"domain": [0, 5], "nice": false, "zero": false}, "axis": {"values": [0, 1, 2, 3, 4, 5]}, "title": "Time [days]"}, "text": {"field": "letter"}}},
  {"data": {"name": "labels"}, "transform": [{"filter": "datum.panel == 'b'"}], "mark": {"type": "text", "align": "center", "baseline": "alphabetic", "fontSize": 23}, "encoding": {"x": {"datum": 30, "type": "quantitative", "scale": {"domain": [0, 60], "nice": false, "zero": false}, "axis": {"values": [0, 20, 40, 60]}, "title": "Radius [km]"}, "y": {"datum": 5.219, "type": "quantitative", "scale": {"domain": [0, 5], "nice": false, "zero": false}, "axis": {"values": [0, 1, 2, 3, 4, 5]}, "title": "Time [days]"}, "text": {"field": "title"}}}
 ]},
 {"width": 407, "height": 297, "layer": [
  {"data": {"name": "contours"}, "transform": [{"filter": "datum.panel == 'c'"}], "mark": {"type": "line", "strokeWidth": 1.8, "clip": true, "interpolate": "catmull-rom"}, "encoding": {"x": {"field": "r", "type": "quantitative", "scale": {"domain": [0, 60], "nice": false, "zero": false}, "axis": {"values": [0, 20, 40, 60]}, "title": "Radius [km]"}, "y": {"field": "t", "type": "quantitative", "scale": {"domain": [0, 5], "nice": false, "zero": false}, "axis": {"values": [0, 1, 2, 3, 4, 5]}, "title": "Time [days]"}, "detail": {"field": "id"}, "order": {"value": null}, "color": {"field": "sign", "type": "nominal", "scale": {"domain": ["pos", "neg"], "range": ["#ff0000", "#0000ff"]}, "legend": null}, "strokeDash": {"field": "sign", "type": "nominal", "scale": {"domain": ["pos", "neg"], "range": [[1, 0], [3, 2]]}, "legend": null}}},
  {"data": {"name": "rmw"}, "mark": {"type": "line", "color": "#00dd00", "strokeWidth": 1.8, "clip": true, "interpolate": "catmull-rom"}, "encoding": {"x": {"field": "r", "type": "quantitative", "scale": {"domain": [0, 60], "nice": false, "zero": false}, "axis": {"values": [0, 20, 40, 60]}, "title": "Radius [km]"}, "y": {"field": "t", "type": "quantitative", "scale": {"domain": [0, 5], "nice": false, "zero": false}, "axis": {"values": [0, 1, 2, 3, 4, 5]}, "title": "Time [days]"}, "order": {"value": null}}},
  {"data": {"name": "labels"}, "transform": [{"filter": "datum.panel == 'c'"}], "mark": {"type": "text", "align": "right", "baseline": "alphabetic", "fontSize": 18}, "encoding": {"x": {"datum": 59.26, "type": "quantitative", "scale": {"domain": [0, 60], "nice": false, "zero": false}, "axis": {"values": [0, 20, 40, 60]}, "title": "Radius [km]"}, "y": {"datum": 4.596, "type": "quantitative", "scale": {"domain": [0, 5], "nice": false, "zero": false}, "axis": {"values": [0, 1, 2, 3, 4, 5]}, "title": "Time [days]"}, "text": {"field": "interval"}}},
  {"data": {"name": "labels"}, "transform": [{"filter": "datum.panel == 'c'"}], "mark": {"type": "text", "align": "left", "baseline": "alphabetic", "fontSize": 23}, "encoding": {"x": {"datum": -9.58, "type": "quantitative", "scale": {"domain": [0, 60], "nice": false, "zero": false}, "axis": {"values": [0, 20, 40, 60]}, "title": "Radius [km]"}, "y": {"datum": 5.219, "type": "quantitative", "scale": {"domain": [0, 5], "nice": false, "zero": false}, "axis": {"values": [0, 1, 2, 3, 4, 5]}, "title": "Time [days]"}, "text": {"field": "letter"}}},
  {"data": {"name": "labels"}, "transform": [{"filter": "datum.panel == 'c'"}], "mark": {"type": "text", "align": "center", "baseline": "alphabetic", "fontSize": 23}, "encoding": {"x": {"datum": 30, "type": "quantitative", "scale": {"domain": [0, 60], "nice": false, "zero": false}, "axis": {"values": [0, 20, 40, 60]}, "title": "Radius [km]"}, "y": {"datum": 5.219, "type": "quantitative", "scale": {"domain": [0, 5], "nice": false, "zero": false}, "axis": {"values": [0, 1, 2, 3, 4, 5]}, "title": "Time [days]"}, "text": {"field": "title"}}}
 ]},
 {"width": 407, "height": 297, "layer": [
  {"data": {"name": "contours"}, "transform": [{"filter": "datum.panel == 'd'"}], "mark": {"type": "line", "strokeWidth": 1.8, "clip": true, "interpolate": "catmull-rom"}, "encoding": {"x": {"field": "r", "type": "quantitative", "scale": {"domain": [0, 60], "nice": false, "zero": false}, "axis": {"values": [0, 20, 40, 60]}, "title": "Radius [km]"}, "y": {"field": "t", "type": "quantitative", "scale": {"domain": [0, 5], "nice": false, "zero": false}, "axis": {"values": [0, 1, 2, 3, 4, 5]}, "title": "Time [days]"}, "detail": {"field": "id"}, "order": {"value": null}, "color": {"field": "sign", "type": "nominal", "scale": {"domain": ["pos", "neg"], "range": ["#ff0000", "#0000ff"]}, "legend": null}, "strokeDash": {"field": "sign", "type": "nominal", "scale": {"domain": ["pos", "neg"], "range": [[1, 0], [3, 2]]}, "legend": null}}},
  {"data": {"name": "rmw"}, "mark": {"type": "line", "color": "#00dd00", "strokeWidth": 1.8, "clip": true, "interpolate": "catmull-rom"}, "encoding": {"x": {"field": "r", "type": "quantitative", "scale": {"domain": [0, 60], "nice": false, "zero": false}, "axis": {"values": [0, 20, 40, 60]}, "title": "Radius [km]"}, "y": {"field": "t", "type": "quantitative", "scale": {"domain": [0, 5], "nice": false, "zero": false}, "axis": {"values": [0, 1, 2, 3, 4, 5]}, "title": "Time [days]"}, "order": {"value": null}}},
  {"data": {"name": "labels"}, "transform": [{"filter": "datum.panel == 'd'"}], "mark": {"type": "text", "align": "right", "baseline": "alphabetic", "fontSize": 18}, "encoding": {"x": {"datum": 59.26, "type": "quantitative", "scale": {"domain": [0, 60], "nice": false, "zero": false}, "axis": {"values": [0, 20, 40, 60]}, "title": "Radius [km]"}, "y": {"datum": 4.596, "type": "quantitative", "scale": {"domain": [0, 5], "nice": false, "zero": false}, "axis": {"values": [0, 1, 2, 3, 4, 5]}, "title": "Time [days]"}, "text": {"field": "interval"}}},
  {"data": {"name": "labels"}, "transform": [{"filter": "datum.panel == 'd'"}], "mark": {"type": "text", "align": "left", "baseline": "alphabetic", "fontSize": 23}, "encoding": {"x": {"datum": -9.58, "type": "quantitative", "scale": {"domain": [0, 60], "nice": false, "zero": false}, "axis": {"values": [0, 20, 40, 60]}, "title": "Radius [km]"}, "y": {"datum": 5.219, "type": "quantitative", "scale": {"domain": [0, 5], "nice": false, "zero": false}, "axis": {"values": [0, 1, 2, 3, 4, 5]}, "title": "Time [days]"}, "text": {"field": "letter"}}},
  {"data": {"name": "labels"}, "transform": [{"filter": "datum.panel == 'd'"}], "mark": {"type": "text", "align": "center", "baseline": "alphabetic", "fontSize": 23}, "encoding": {"x": {"datum": 30, "type": "quantitative", "scale": {"domain": [0, 60], "nice": false, "zero": false}, "axis": {"values": [0, 20, 40, 60]}, "title": "Radius [km]"}, "y": {"datum": 5.219, "type": "quantitative", "scale": {"domain": [0, 5], "nice": false, "zero": false}, "axis": {"values": [0, 1, 2, 3, 4, 5]}, "title": "Time [days]"}, "text": {"field": "title"}}}
 ]},
 {"width": 407, "height": 297, "layer": [
  {"data": {"name": "contours"}, "transform": [{"filter": "datum.panel == 'e'"}], "mark": {"type": "line", "strokeWidth": 1.8, "clip": true, "interpolate": "catmull-rom"}, "encoding": {"x": {"field": "r", "type": "quantitative", "scale": {"domain": [0, 60], "nice": false, "zero": false}, "axis": {"values": [0, 20, 40, 60]}, "title": "Radius [km]"}, "y": {"field": "t", "type": "quantitative", "scale": {"domain": [0, 5], "nice": false, "zero": false}, "axis": {"values": [0, 1, 2, 3, 4, 5]}, "title": "Time [days]"}, "detail": {"field": "id"}, "order": {"value": null}, "color": {"field": "sign", "type": "nominal", "scale": {"domain": ["pos", "neg"], "range": ["#ff0000", "#0000ff"]}, "legend": null}, "strokeDash": {"field": "sign", "type": "nominal", "scale": {"domain": ["pos", "neg"], "range": [[1, 0], [3, 2]]}, "legend": null}}},
  {"data": {"name": "rmw"}, "mark": {"type": "line", "color": "#00dd00", "strokeWidth": 1.8, "clip": true, "interpolate": "catmull-rom"}, "encoding": {"x": {"field": "r", "type": "quantitative", "scale": {"domain": [0, 60], "nice": false, "zero": false}, "axis": {"values": [0, 20, 40, 60]}, "title": "Radius [km]"}, "y": {"field": "t", "type": "quantitative", "scale": {"domain": [0, 5], "nice": false, "zero": false}, "axis": {"values": [0, 1, 2, 3, 4, 5]}, "title": "Time [days]"}, "order": {"value": null}}},
  {"data": {"name": "labels"}, "transform": [{"filter": "datum.panel == 'e'"}], "mark": {"type": "text", "align": "right", "baseline": "alphabetic", "fontSize": 18}, "encoding": {"x": {"datum": 59.26, "type": "quantitative", "scale": {"domain": [0, 60], "nice": false, "zero": false}, "axis": {"values": [0, 20, 40, 60]}, "title": "Radius [km]"}, "y": {"datum": 4.596, "type": "quantitative", "scale": {"domain": [0, 5], "nice": false, "zero": false}, "axis": {"values": [0, 1, 2, 3, 4, 5]}, "title": "Time [days]"}, "text": {"field": "interval"}}},
  {"data": {"name": "labels"}, "transform": [{"filter": "datum.panel == 'e'"}], "mark": {"type": "text", "align": "left", "baseline": "alphabetic", "fontSize": 23}, "encoding": {"x": {"datum": -9.58, "type": "quantitative", "scale": {"domain": [0, 60], "nice": false, "zero": false}, "axis": {"values": [0, 20, 40, 60]}, "title": "Radius [km]"}, "y": {"datum": 5.219, "type": "quantitative", "scale": {"domain": [0, 5], "nice": false, "zero": false}, "axis": {"values": [0, 1, 2, 3, 4, 5]}, "title": "Time [days]"}, "text": {"field": "letter"}}},
  {"data": {"name": "labels"}, "transform": [{"filter": "datum.panel == 'e'"}], "mark": {"type": "text", "align": "center", "baseline": "alphabetic", "fontSize": 23}, "encoding": {"x": {"datum": 30, "type": "quantitative", "scale": {"domain": [0, 60], "nice": false, "zero": false}, "axis": {"values": [0, 20, 40, 60]}, "title": "Radius [km]"}, "y": {"datum": 5.219, "type": "quantitative", "scale": {"domain": [0, 5], "nice": false, "zero": false}, "axis": {"values": [0, 1, 2, 3, 4, 5]}, "title": "Time [days]"}, "text": {"field": "title"}}}
 ]},
 {"width": 407, "height": 297, "layer": [
  {"data": {"name": "contours"}, "transform": [{"filter": "datum.panel == 'f'"}], "mark": {"type": "line", "strokeWidth": 1.8, "clip": true, "interpolate": "catmull-rom"}, "encoding": {"x": {"field": "r", "type": "quantitative", "scale": {"domain": [0, 60], "nice": false, "zero": false}, "axis": {"values": [0, 20, 40, 60]}, "title": "Radius [km]"}, "y": {"field": "t", "type": "quantitative", "scale": {"domain": [0, 5], "nice": false, "zero": false}, "axis": {"values": [0, 1, 2, 3, 4, 5]}, "title": "Time [days]"}, "detail": {"field": "id"}, "order": {"value": null}, "color": {"field": "sign", "type": "nominal", "scale": {"domain": ["pos", "neg"], "range": ["#ff0000", "#0000ff"]}, "legend": null}, "strokeDash": {"field": "sign", "type": "nominal", "scale": {"domain": ["pos", "neg"], "range": [[1, 0], [3, 2]]}, "legend": null}}},
  {"data": {"name": "rmw"}, "mark": {"type": "line", "color": "#00dd00", "strokeWidth": 1.8, "clip": true, "interpolate": "catmull-rom"}, "encoding": {"x": {"field": "r", "type": "quantitative", "scale": {"domain": [0, 60], "nice": false, "zero": false}, "axis": {"values": [0, 20, 40, 60]}, "title": "Radius [km]"}, "y": {"field": "t", "type": "quantitative", "scale": {"domain": [0, 5], "nice": false, "zero": false}, "axis": {"values": [0, 1, 2, 3, 4, 5]}, "title": "Time [days]"}, "order": {"value": null}}},
  {"data": {"name": "labels"}, "transform": [{"filter": "datum.panel == 'f'"}], "mark": {"type": "text", "align": "right", "baseline": "alphabetic", "fontSize": 18}, "encoding": {"x": {"datum": 59.26, "type": "quantitative", "scale": {"domain": [0, 60], "nice": false, "zero": false}, "axis": {"values": [0, 20, 40, 60]}, "title": "Radius [km]"}, "y": {"datum": 4.596, "type": "quantitative", "scale": {"domain": [0, 5], "nice": false, "zero": false}, "axis": {"values": [0, 1, 2, 3, 4, 5]}, "title": "Time [days]"}, "text": {"field": "interval"}}},
  {"data": {"name": "labels"}, "transform": [{"filter": "datum.panel == 'f'"}], "mark": {"type": "text", "align": "left", "baseline": "alphabetic", "fontSize": 23}, "encoding": {"x": {"datum": -9.58, "type": "quantitative", "scale": {"domain": [0, 60], "nice": false, "zero": false}, "axis": {"values": [0, 20, 40, 60]}, "title": "Radius [km]"}, "y": {"datum": 5.219, "type": "quantitative", "scale": {"domain": [0, 5], "nice": false, "zero": false}, "axis": {"values": [0, 1, 2, 3, 4, 5]}, "title": "Time [days]"}, "text": {"field": "letter"}}},
  {"data": {"name": "labels"}, "transform": [{"filter": "datum.panel == 'f'"}], "mark": {"type": "text", "align": "center", "baseline": "alphabetic", "fontSize": 23}, "encoding": {"x": {"datum": 30, "type": "quantitative", "scale": {"domain": [0, 60], "nice": false, "zero": false}, "axis": {"values": [0, 20, 40, 60]}, "title": "Radius [km]"}, "y": {"datum": 5.219, "type": "quantitative", "scale": {"domain": [0, 5], "nice": false, "zero": false}, "axis": {"values": [0, 1, 2, 3, 4, 5]}, "title": "Time [days]"}, "text": {"field": "title"}}}
 ]}
]
}
